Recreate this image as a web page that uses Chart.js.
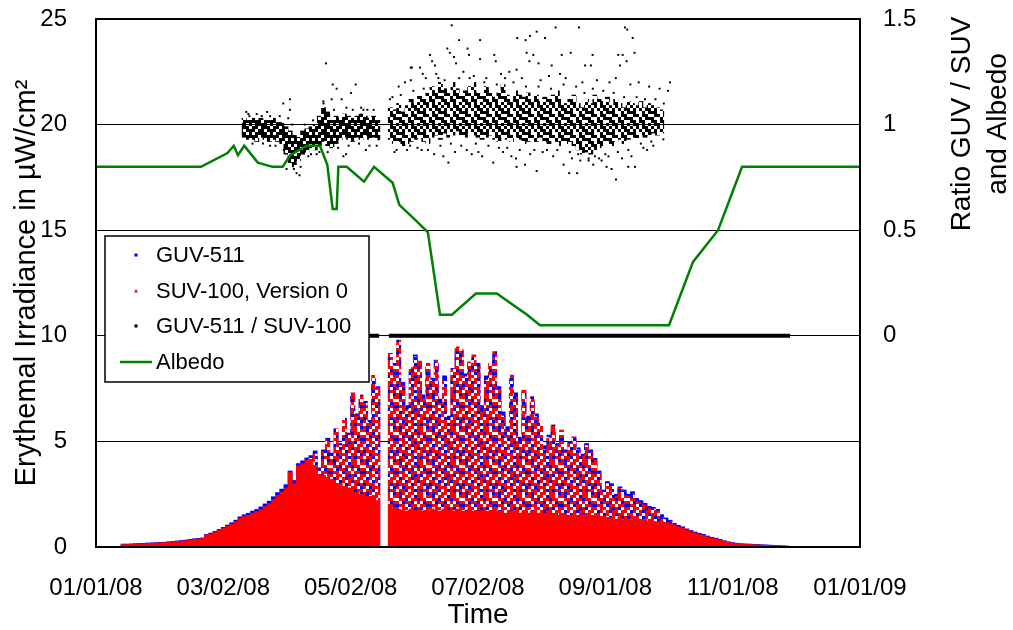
<!DOCTYPE html>
<html><head><meta charset="utf-8">
<script src="https://cdn.jsdelivr.net/npm/chart.js@4.4.1/dist/chart.umd.min.js"></script>
<style>html,body{margin:0;padding:0;background:#fff}#wrap{width:1013px;height:630px;position:relative}</style>
</head><body><div id="wrap"><canvas id="c"></canvas></div>
<script>
// ---- tick labels (days since 01/01/08 on the x axis, step 61 days) ----
const tickLabels = ['01/01/08','03/02/08','05/02/08','07/02/08','09/01/08','11/01/08','01/01/09'];
const seriesNames = ['GUV-511','SUV-100, Version 0','GUV-511 / SUV-100','Albedo'];

// ---- irradiance: one value per 2-day bin, first bin centred on day 13 ----
const firstBinDay = 13, binDays = 2;
const suvPeak = [0.12,0.12,0.13,0.14,0.15,0.16,0.17,0.18,0.19,0.20,
 0.21,0.23,0.25,0.27,0.28,0.30,0.33,0.36,0.38,0.40,
 0.57,0.62,0.70,0.78,0.88,0.98,1.08,1.20,1.35,1.45,
 1.50,1.60,1.67,1.78,1.92,2.05,2.25,2.45,2.60,2.80,
 3.55,3.00,3.85,3.95,4.10,4.20,4.40,3.60,4.50,5.10,
 4.30,5.60,4.80,6.10,5.30,7.30,6.20,7.20,6.80,5.90,
 8.14,7.50,null,null,9.17,8.60,9.80,7.60,6.50,8.50,
 9.00,8.80,7.00,8.70,7.90,8.85,6.80,7.90,6.00,8.46,
 9.48,9.33,8.06,8.77,9.10,8.54,6.50,7.90,8.70,9.25,
 7.43,6.20,5.50,8.14,7.12,5.00,7.43,6.00,7.12,6.17,
 5.86,4.60,5.20,5.78,4.80,5.54,4.50,4.90,5.22,4.60,
 4.30,4.80,4.50,4.10,3.49,2.60,3.00,2.90,2.40,2.78,
 2.60,2.40,2.54,2.20,2.10,1.99,1.85,1.80,1.70,1.45,
 1.30,1.20,1.05,0.96,0.90,0.80,0.72,0.66,0.60,0.55,
 0.48,0.42,0.38,0.32,0.27,0.22,0.18,0.16,0.14,0.13,
 0.12,0.11,0.10,0.09,0.08,0.07,0.06,0.05,0.04,0.03];
// level below which the SUV points merge into a solid fill
const suvDense = [0.12,0.12,0.13,0.14,0.15,0.16,0.17,0.18,0.19,0.20,
 0.21,0.23,0.25,0.27,0.28,0.30,0.33,0.36,0.38,0.40,
 0.57,0.62,0.70,0.78,0.88,0.98,1.08,1.20,1.35,1.45,
 1.50,1.60,1.67,1.78,1.92,2.05,2.25,2.45,2.60,2.80,
 3.55,3.00,3.85,3.95,4.10,4.00,3.80,3.40,3.40,3.30,
 3.20,3.00,3.00,2.80,2.80,2.60,2.60,2.50,2.40,2.40,
 2.30,2.20,null,null,1.90,1.80,1.80,1.70,1.70,1.80,
 1.70,1.80,1.70,1.70,1.80,1.70,1.70,1.80,1.70,1.70,
 1.80,1.70,1.70,1.80,1.70,1.70,1.60,1.70,1.70,1.80,
 1.70,1.60,1.60,1.70,1.70,1.60,1.70,1.60,1.70,1.60,
 1.60,1.60,1.60,1.60,1.50,1.60,1.50,1.50,1.60,1.50,
 1.50,1.50,1.50,1.50,1.40,1.40,1.40,1.40,1.30,1.40,
 1.30,1.30,1.30,1.30,1.30,1.30,1.20,1.20,1.20,1.20,
 1.10,1.10,1.05,0.96,0.90,0.80,0.72,0.66,0.60,0.55,
 0.48,0.42,0.38,0.32,0.27,0.22,0.18,0.16,0.14,0.13,
 0.12,0.11,0.10,0.09,0.08,0.07,0.06,0.05,0.04,0.03];
const guvPeak = [0.14,0.14,0.15,0.16,0.17,0.18,0.19,0.20,0.21,0.22,
 0.23,0.25,0.27,0.29,0.31,0.33,0.36,0.39,0.41,0.43,
 0.60,0.66,0.74,0.83,0.93,1.04,1.15,1.27,1.43,1.53,
 1.60,1.70,1.78,1.90,2.04,2.17,2.38,2.58,2.74,2.95,
 3.60,3.15,3.95,4.08,4.22,4.33,4.55,3.75,4.60,5.15,
 4.45,5.55,4.90,6.00,5.40,7.10,6.30,7.00,6.90,6.00,
 7.90,7.60,null,null,9.00,8.70,9.60,7.80,6.70,8.30,
 9.10,8.60,7.20,8.50,8.00,8.70,7.00,8.10,6.20,8.30,
 9.30,9.10,8.20,8.60,8.90,8.70,6.70,8.10,8.50,9.00,
 7.60,6.40,5.70,8.00,7.30,5.20,7.30,6.20,6.90,6.30,
 5.70,4.80,5.30,5.60,4.90,5.40,4.60,5.00,5.10,4.70,
 4.40,4.90,4.60,4.20,3.60,2.70,3.10,3.00,2.50,2.85,
 2.70,2.50,2.62,2.30,2.20,2.07,1.93,1.88,1.78,1.53,
 1.38,1.27,1.12,1.03,0.96,0.86,0.78,0.71,0.65,0.60,
 0.52,0.46,0.42,0.36,0.30,0.25,0.21,0.18,0.16,0.15,
 0.14,0.13,0.12,0.11,0.10,0.09,0.08,0.07,0.06,0.05];

// ---- ratio GUV/SUV: dense core per 2-day bin, first bin day 71 ----
const ratioFirstDay = 71;
const ratioLow = [0.94,0.93,0.93,0.92,0.94,0.93,0.92,0.93,0.92,0.91,
 0.86,0.82,0.80,0.83,0.86,0.87,0.89,0.88,0.90,0.92,
 0.90,0.89,0.91,0.93,0.94,0.93,0.92,0.94,0.93,0.95,
 0.93,0.94,0.93,null,null,0.93,0.91,0.92,0.90,0.91,
 0.92,0.93,0.94,0.92,0.91,0.94,0.95,0.93,0.96,0.94,
 0.95,0.97,0.95,0.94,0.96,0.95,0.94,0.93,0.94,0.95,
 0.93,0.92,0.94,0.93,0.92,0.94,0.93,0.91,0.92,0.93,
 0.92,0.94,0.92,0.91,0.93,0.92,0.90,0.91,0.92,0.90,
 0.88,0.86,0.87,0.86,0.88,0.89,0.90,0.91,0.90,0.92,
 0.93,0.91,0.93,0.94,0.93,0.95,0.94,0.95,0.96,0.95,
 0.96];
const ratioHigh = [1.03,1.02,1.03,1.02,1.03,1.02,1.02,1.03,1.01,1.01,
 0.99,0.97,0.95,0.94,0.97,0.98,0.99,1.00,1.04,1.08,
 1.06,1.02,1.04,1.03,1.05,1.04,1.03,1.04,1.05,1.04,
 1.03,1.04,1.02,null,null,1.08,1.07,1.10,1.06,1.09,
 1.12,1.10,1.14,1.12,1.15,1.18,1.16,1.20,1.17,1.15,
 1.20,1.17,1.14,1.16,1.18,1.20,1.15,1.14,1.18,1.16,
 1.13,1.15,1.19,1.14,1.12,1.16,1.14,1.13,1.15,1.12,
 1.14,1.11,1.13,1.12,1.14,1.16,1.12,1.10,1.12,1.14,
 1.10,1.08,1.12,1.10,1.14,1.12,1.11,1.13,1.09,1.12,
 1.10,1.08,1.11,1.10,1.09,1.11,1.08,1.10,1.09,1.08,
 1.07];
// scattered ratio points outside the core
const ratioOutDays = [73,73.5,79.4,83.4,83.4,89.7,91.3,92.1,92.9,92.9,
 94.8,96.1,97.5,101.7,105.7,108.9,110.2,112.9,113.4,115.3,
 117.7,118.5,119.8,122.2,124.4,128.1,129.3,134.5,135.3,140.8,
 143,145,148,150.4,150.8,150.8,151.3,155.2,156.5,156,
 158,160,161,162,162.4,163,166.4,168.3,168.8,169.5,
 170.4,171.5,172.5,172,173.9,176,177.6,178,178.7,180,
 181,183.2,184,184,185,184.3,187,189.6,190.3,190.8,
 191.5,194,195,198,199,201.2,201.5,201.5,201.8,204,
 205.5,205.8,206.3,207.6,207.9,208,209.5,211.1,212,211.1,
 213,214,215.1,217,218.3,219,220.2,222.3,223.1,224,
 225,226.7,227.4,228,229.5,230.5,231,231.4,233,234.3,
 236,237.1,237.9,238.2,240,241,242.2,244.6,245.5,246,
 247,249,249.1,250.2,251,252,252.3,253.4,254.5,254.2,
 255,256,256.5,257.1,258,258.2,260,262.2,264,265,
 267,270,271.8,275,274,
 72,75,77,80,82,86,88,90,94,98,
 100,103,104,107,109,111,114,116,120,121,
 123,126,127,130,131,133,
 142,144,146,149,152,154,157,159,164,165,
 167,170,174,175,179,182,186,188,192,193,
 196,197,200,203,206,210,212,216,218,221,
 224,227,230,232,234,236,238,239,243,244,
 248,250,253,255,259,261,263,266,268,272];
const ratioOutVals = [1.05,1.04,1.04,1.04,0.90,1.10,0.79,1.03,1.12,1.07,
 0.79,0.77,0.76,0.85,0.86,1.11,1.29,1.12,1.19,1.17,
 1.12,0.85,0.86,1.15,1.19,1.07,0.88,0.90,0.93,1.12,
 0.87,1.18,1.20,0.90,1.27,1.21,1.27,1.27,1.24,0.88,
 1.22,1.33,1.30,0.86,1.28,1.24,0.85,1.36,0.82,1.34,
 1.47,1.32,1.29,0.87,1.40,1.25,0.88,1.36,1.33,0.86,
 1.23,0.87,1.40,1.31,0.85,1.50,1.22,1.50,0.82,1.33,
 1.30,1.24,0.87,1.25,0.85,0.84,0.80,1.26,1.41,1.22,
 0.81,1.40,1.34,1.30,1.42,0.86,1.33,1.44,1.29,0.78,
 1.21,0.87,1.41,1.23,1.28,0.85,1.46,1.24,1.33,0.81,
 1.22,0.77,1.34,0.84,1.50,0.77,0.86,1.46,1.20,1.28,
 0.83,1.28,1.33,0.81,1.21,0.84,0.83,0.80,0.85,1.20,
 0.79,1.22,0.74,1.33,1.28,0.84,1.33,1.46,1.45,1.30,
 0.80,1.19,0.85,1.41,1.34,0.80,1.20,0.89,0.88,1.18,
 0.90,1.17,0.93,1.20,1.16,
 1.06,0.91,1.05,0.91,1.06,0.90,1.04,0.88,1.00,0.80,
 1.00,0.86,1.02,0.87,1.10,0.87,1.07,0.89,1.08,0.90,
 1.07,0.91,1.08,1.07,0.90,1.07,
 1.13,0.88,1.14,0.88,1.16,0.89,1.17,0.88,1.22,0.90,
 1.21,0.91,1.22,0.90,1.22,0.91,1.20,0.90,1.19,0.89,
 1.22,0.89,1.20,0.88,1.18,0.88,1.18,0.88,1.17,0.88,
 1.19,0.87,1.18,0.83,1.15,0.84,1.17,0.85,1.16,0.86,
 1.15,0.87,1.13,0.88,1.13,0.91,1.12,0.92,1.12,1.10];
// night-time ratio values (0)
const ratioZeroDays = [125,135.6,138,140.3,332.5];
const ratioZeroVals = [0,0,null,0,0];

// ---- albedo ----
const albedoDays = [0,50.3,63,66,68,71,77.5,84.6,89.4,93,
 101,107.3,110.8,113.4,115.3,116.1,120.1,128.4,133.2,142.1,
 145.3,152.8,159,164.8,170.5,182,192,206.5,212.7,274.5,
 286,298,309.5,366];
const albedoVals = [0.8,0.8,0.865,0.9,0.855,0.9,0.82,0.8,0.8,0.855,
 0.9,0.9,0.81,0.6,0.6,0.8,0.8,0.73,0.8,0.725,
 0.62,0.55,0.49,0.1,0.1,0.2,0.2,0.1,0.05,0.05,
 0.35,0.5,0.8,0.8];

// ---------------- build ----------------
const FONT = '"Liberation Sans", Arial, sans-serif';
function makePattern(rows, colors, cell){
  const n = rows.length, c = document.createElement('canvas');
  c.width = rows[0].length*cell; c.height = n*cell;
  const g = c.getContext('2d');
  rows.forEach((r,j)=>{ for(let i=0;i<r.length;i++){ const col = colors[r[i]]; if(col){ g.fillStyle=col; g.fillRect(i*cell,j*cell,cell,cell);} } });
  return g.createPattern(c,'repeat');
}
const speckle = makePattern(['RBWRRWBRRWR','WRRBWRRBRRW','RWBRRBWRWBR','BRRWBRRWRRB','RWRRWRBRBWR',
  'WBRWRBRRWRR','RRWBRWRBRRW','BRRRWBRWRBR','RWBRRRWRRWB','WRRBWRBRBRR','RBRWRRWRRWB'],
  {R:'#ff0000',B:'#0000ff',W:'#ffffff'}, 3);
const coreDense = makePattern(['KKWKKKW','KWKKWKK','WKKKKWK','KKWKKKK','KWKKWKW','KKKWKKK','WKKKKWK'], {K:'#000000'}, 3);
const coreLight = makePattern(['KWKWKKW','WKWKWKK','KKWWKWK','WKKWKKW','KWWKWKK','KKWKKWW','WKKWKWK'], {K:'#000000'}, 3);

const binX = i => firstBinDay + i*binDays;
const guvData = [], denseData = [], speckData = [];
suvPeak.forEach((p,i)=>{
  if(p==null) return;
  guvData.push({x:binX(i), y:[0, guvPeak[i]]});
  denseData.push({x:binX(i), y:[0, suvDense[i]]});
  if(p > suvDense[i]) speckData.push({x:binX(i), y:[suvDense[i], p]});
});
const coreData = [];
ratioLow.forEach((lo,i)=>{ if(lo==null) return; coreData.push({x:ratioFirstDay + i*binDays, y:[lo, ratioHigh[i]]}); });
const outData = ratioOutDays.map((d,i)=>({x:d, y:ratioOutVals[i]}));
const zeroData = ratioZeroDays.map((d,i)=>({x:d, y:ratioZeroVals[i]}));
const albData = albedoDays.map((d,i)=>({x:d, y:albedoVals[i]}));

const barCommon = {type:'bar', grouped:false, barPercentage:1, categoryPercentage:1, borderWidth:0};

const framePlugin = {
  id:'frame',
  afterDraw(chart){
    const {ctx, chartArea:ca} = chart;
    ctx.save(); ctx.lineWidth = 2; ctx.strokeStyle = '#000';
    ctx.strokeRect(ca.left, ca.top, ca.right-ca.left, ca.bottom-ca.top);
    ctx.restore();
  }
};
const legendPlugin = {
  id:'boxLegend',
  afterDraw(chart){
    const {ctx, chartArea:ca} = chart;
    const x0 = ca.left + 9, y0 = ca.top + 217, w = 264, h = 146;
    ctx.save();
    ctx.fillStyle = '#fff'; ctx.fillRect(x0,y0,w,h);
    ctx.lineWidth = 1.5; ctx.strokeStyle = '#000'; ctx.strokeRect(x0,y0,w,h);
    const rows = [19, 55, 90, 126];
    const mx = x0 + 31;
    ctx.fillStyle = '#0000ff'; ctx.fillRect(mx-1.5, y0+rows[0]-1.5, 3, 3);
    ctx.fillStyle = '#ff0000'; ctx.beginPath(); ctx.moveTo(mx, y0+rows[1]-2); ctx.lineTo(mx+2, y0+rows[1]+1.5); ctx.lineTo(mx-2, y0+rows[1]+1.5); ctx.closePath(); ctx.fill();
    ctx.fillStyle = '#000'; ctx.fillRect(mx-1.5, y0+rows[2]-1.5, 3, 3);
    ctx.strokeStyle = '#008000'; ctx.lineWidth = 2.5; ctx.beginPath(); ctx.moveTo(x0+15, y0+rows[3]); ctx.lineTo(x0+47, y0+rows[3]); ctx.stroke();
    ctx.fillStyle = '#000'; ctx.font = '22px ' + FONT; ctx.textBaseline = 'middle'; ctx.textAlign = 'left';
    seriesNames.forEach((t,i)=> ctx.fillText(t, x0 + 51, y0 + rows[i] + 1));
    ctx.restore();
  }
};
const rightTitlePlugin = {
  id:'rightTitle',
  afterDraw(chart){
    const {ctx, chartArea:ca} = chart;
    ctx.save(); ctx.fillStyle = '#000'; ctx.font = '28px ' + FONT; ctx.textAlign = 'center'; ctx.textBaseline = 'middle';
    [['Ratio GUV / SUV', 102], ['and Albedo', 138]].forEach(([t,dx])=>{
      ctx.save(); ctx.translate(ca.right + dx, ca.top + 105); ctx.rotate(-Math.PI/2); ctx.fillText(t, 0, 0); ctx.restore();
    });
    ctx.restore();
  }
};
const noPad = (s)=>{ s.paddingTop = 0; s.paddingBottom = 0; };

new Chart(document.getElementById('c'), {
  type:'bar',
  data:{ datasets:[
    {type:'line', label:seriesNames[3], data:albData, yAxisID:'yR', borderColor:'#008000', borderWidth:2.5, pointRadius:0, tension:0, order:0},
    {type:'scatter', label:seriesNames[2], data:outData, yAxisID:'yR', pointStyle:'rect', pointRadius:1.4, backgroundColor:'#000', borderWidth:0, order:1},
    {type:'line', label:'ratio night', data:zeroData, yAxisID:'yR', borderColor:'#000', borderWidth:4, pointRadius:0, spanGaps:false, order:2},
    {...barCommon, label:'ratio core', data:coreData, yAxisID:'yR', backgroundColor:(c)=> (c.raw && c.raw.x < 137) ? coreDense : coreLight, order:3},
    {...barCommon, label:seriesNames[1], data:denseData, yAxisID:'y', backgroundColor:'#ff0000', order:4},
    {...barCommon, label:seriesNames[1]+' scatter', data:speckData, yAxisID:'y', backgroundColor:speckle, order:5},
    {...barCommon, label:seriesNames[0], data:guvData, yAxisID:'y', backgroundColor:'#0000ff', order:6}
  ]},
  options:{
    responsive:true, maintainAspectRatio:false, animation:false,
    layout:{padding:{top:19,left:0,right:0,bottom:0}},
    plugins:{legend:{display:false}, tooltip:{enabled:false}},
    scales:{
      x:{type:'linear', min:0, max:366, offset:false,
        grid:{display:false, drawTicks:false}, border:{display:false},
        ticks:{stepSize:61, autoSkip:false, maxRotation:0, padding:27, color:'#000', font:{size:24, family:FONT},
          callback:(v,i)=> tickLabels[i]},
        title:{display:true, text:'Time', color:'#000', font:{size:28, family:FONT, lineHeight:1}, padding:{top:0,bottom:1}},
        afterFit:(s)=>{ s.height = 83; s.paddingLeft = 0; s.paddingRight = 0; }},
      y:{position:'left', min:0, max:25, z:1,
        grid:{color:'#000', lineWidth:1, drawTicks:false}, border:{display:false},
        ticks:{stepSize:5, padding:29, color:'#000', font:{size:24, family:FONT}},
        title:{display:true, text:'Erythemal Irradiance in µW/cm²', color:'#000', font:{size:29, family:FONT, lineHeight:1}, padding:{top:12,bottom:0}},
        afterFit:(s)=>{ s.width = 96; noPad(s); }},
      yR:{position:'right', min:-1, max:1.5,
        grid:{display:false, drawTicks:false}, border:{display:false},
        ticks:{stepSize:0.5, padding:23, color:'#000', font:{size:24, family:FONT}, callback:(v)=> v >= 0 ? String(v) : ''},
        afterFit:(s)=>{ s.width = 153; noPad(s); }}
    }
  },
  plugins:[framePlugin, legendPlugin, rightTitlePlugin]
});
</script></body></html>
